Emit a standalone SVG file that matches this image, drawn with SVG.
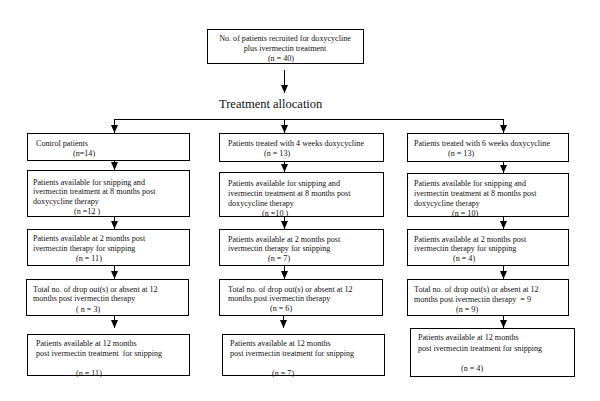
<svg xmlns="http://www.w3.org/2000/svg" width="600" height="401" viewBox="0 0 600 401">
<style>
.box{fill:#fff;stroke:#000;stroke-width:1}
.t{font-family:"Liberation Serif","Times New Roman",serif;font-size:8.1px;fill:#111;white-space:pre}
.c{text-anchor:middle}
.h{font-family:"Liberation Serif","Times New Roman",serif;font-size:12.5px;fill:#111}
.con{stroke:#000;stroke-width:1;fill:none}
.arr{marker-end:url(#ah)}
</style>
<defs>
<marker id="ah" markerUnits="userSpaceOnUse" markerWidth="8" markerHeight="8" refX="8" refY="3.5" orient="auto">
<path d="M0,0 L8,3.5 L0,7 z" fill="#000"/>
</marker>
</defs>
<rect width="600" height="401" fill="#fff"/>

<g id="connectors">
<path class="con arr" d="M284.5,70 V93"/>
<path class="con" d="M114.5,119.5 H503.5"/>
<path class="con arr" d="M114.5,119 V133"/>
<path class="con arr" d="M284.5,119 V133"/>
<path class="con arr" d="M503.5,119 V133"/>
<path class="con arr" d="M114.5,160 V170"/>
<path class="con arr" d="M114.5,216 V229"/>
<path class="con arr" d="M114.5,265 V279"/>
<path class="con arr" d="M114.5,315 V328"/>
<path class="con arr" d="M284.5,161 V172"/>
<path class="con arr" d="M284.5,216 V229"/>
<path class="con arr" d="M284.5,265 V279"/>
<path class="con arr" d="M283.5,315 V328"/>
<path class="con arr" d="M503.5,161 V173"/>
<path class="con arr" d="M503.5,216 V229"/>
<path class="con arr" d="M503.5,265 V279"/>
<path class="con arr" d="M503.5,315 V328"/>
</g>

<g id="recruited">
<rect class="box" x="207.5" y="29.5" width="156" height="34"/>
<text class="t c" x="285" y="41">No. of patients recruited for doxycycline</text>
<text class="t c" x="285" y="51">plus ivermectin treatment</text>
<text class="t c" x="281" y="61">(n = 40)</text>
</g>

<g id="allocation">
<text class="h" x="219" y="108">Treatment allocation</text>
</g>

<g id="control">
<rect class="box" x="27.5" y="133.5" width="162" height="27"/>
<text class="t" x="36" y="146">Control patients</text>
<text class="t" x="73" y="156">(n=14)</text>
</g>
<g id="control-8m">
<rect class="box" x="27.5" y="170.5" width="162" height="46"/>
<text class="t" x="33" y="184.5">Patients available for snipping and</text>
<text class="t" x="33" y="194">ivermectin treatment at 8 months post</text>
<text class="t" x="33" y="203.5">doxycycline therapy</text>
<text class="t" x="74" y="213.5">(n =12 )</text>
</g>
<g id="control-2m">
<rect class="box" x="27.5" y="229.5" width="162" height="36"/>
<text class="t" x="33" y="241">Patients available at 2 months post</text>
<text class="t" x="33" y="250.5">ivermectin therapy for snipping</text>
<text class="t" x="76" y="260.5">(n = 11)</text>
</g>
<g id="control-drop">
<rect class="box" x="26.5" y="279.5" width="162" height="36"/>
<text class="t" x="33" y="291.5">Total no. of drop out(s) or absent at 12</text>
<text class="t" x="33" y="301">months post ivermectin therapy</text>
<text class="t" x="76" y="311.5">( n = 3)</text>
</g>
<g id="control-12m">
<rect class="box" x="27.5" y="334.5" width="162" height="41"/>
<text class="t" x="36" y="345.5">Patients available at 12 months</text>
<text class="t" x="36" y="355.5">post ivermectin treatment  for snipping</text>
<text class="t" x="76" y="376">(n = 11)</text>
</g>

<g id="dox4">
<rect class="box" x="219.5" y="133.5" width="164" height="28"/>
<text class="t" x="228" y="146">Patients treated with 4 weeks doxycycline</text>
<text class="t" x="264" y="156">(n = 13)</text>
</g>
<g id="dox4-8m">
<rect class="box" x="219.5" y="172.5" width="164" height="44"/>
<text class="t" x="228" y="185.5">Patients available for snipping and</text>
<text class="t" x="228" y="195.5">ivermectin treatment at 8 months post</text>
<text class="t" x="228" y="205.5">doxycycline therapy</text>
<text class="t" x="262" y="216">(n =10 )</text>
</g>
<g id="dox4-2m">
<rect class="box" x="219.5" y="229.5" width="164" height="36"/>
<text class="t" x="228" y="241.5">Patients available at 2 months post</text>
<text class="t" x="228" y="251">ivermectin therapy for snipping</text>
<text class="t" x="268" y="261">(n = 7)</text>
</g>
<g id="dox4-drop">
<rect class="box" x="219.5" y="279.5" width="163" height="36"/>
<text class="t" x="228" y="291.5">Total no. of drop out(s) or absent at 12</text>
<text class="t" x="228" y="301">months post ivermectin therapy</text>
<text class="t" x="270" y="311">(n = 6)</text>
</g>
<g id="dox4-12m">
<rect class="box" x="222.5" y="334.5" width="162" height="41"/>
<text class="t" x="230" y="345.5">Patients available at 12 months</text>
<text class="t" x="230" y="355.5">post ivermectin treatment for snipping</text>
<text class="t" x="272" y="376">(n = 7)</text>
</g>

<g id="dox6">
<rect class="box" x="407.5" y="133.5" width="161" height="28"/>
<text class="t" x="414" y="146">Patients treated with 6 weeks doxycycline</text>
<text class="t" x="448" y="156">(n = 13)</text>
</g>
<g id="dox6-8m">
<rect class="box" x="407.5" y="173.5" width="161" height="43"/>
<text class="t" x="414" y="185.5">Patients available for snipping and</text>
<text class="t" x="414" y="195.5">ivermectin treatment at 8 months post</text>
<text class="t" x="414" y="205.5">doxycycline therapy</text>
<text class="t" x="452" y="215.5">(n = 10)</text>
</g>
<g id="dox6-2m">
<rect class="box" x="407.5" y="229.5" width="161" height="36"/>
<text class="t" x="414" y="241.5">Patients available at 2 months post</text>
<text class="t" x="414" y="251">ivermectin therapy for snipping</text>
<text class="t" x="453" y="261">(n = 4)</text>
</g>
<g id="dox6-drop">
<rect class="box" x="407.5" y="279.5" width="161" height="36"/>
<text class="t" x="414" y="291.5">Total no. of drop out(s) or absent at 12</text>
<text class="t" x="414" y="301.5">months post ivermectin therapy  = 9</text>
<text class="t" x="456" y="311.5">(n = 9)</text>
</g>
<g id="dox6-12m">
<rect class="box" x="410.5" y="328.5" width="164" height="48"/>
<text class="t" x="418" y="339.5">Patients available at 12 months</text>
<text class="t" x="418" y="350.5">post ivermectin treatment for snipping</text>
<text class="t" x="461" y="370.5">(n = 4)</text>
</g>
</svg>
